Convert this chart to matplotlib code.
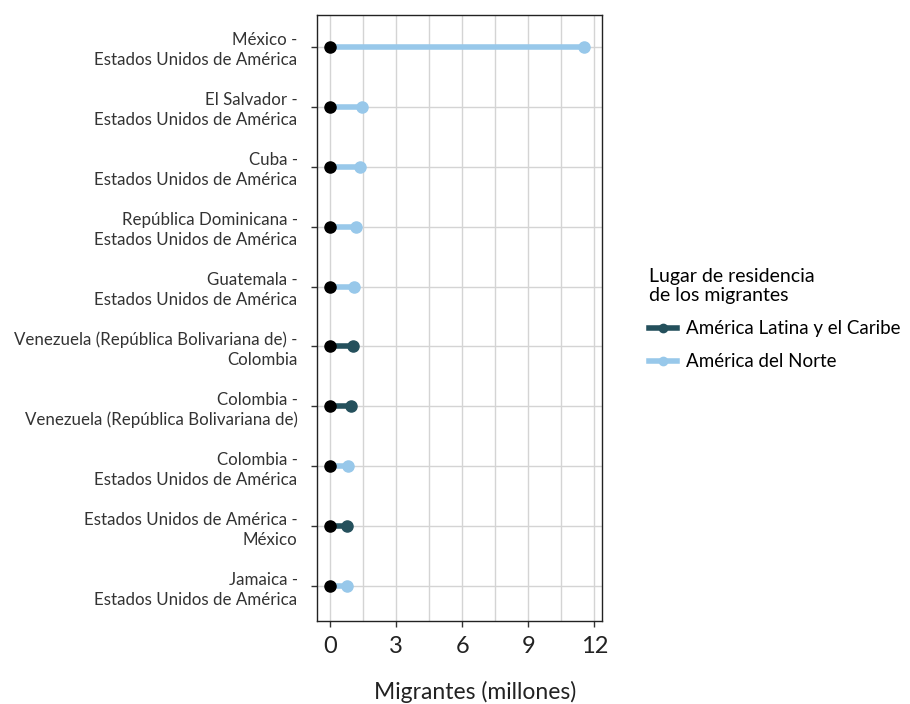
import matplotlib
matplotlib.use("Agg")
import matplotlib.pyplot as plt
from matplotlib.lines import Line2D
import numpy as np

plt.rcParams['font.family'] = ['Lato', 'DejaVu Sans']

corridors = [
    "México -\nEstados Unidos de América",
    "El Salvador -\nEstados Unidos de América",
    "Cuba -\nEstados Unidos de América",
    "República Dominicana -\nEstados Unidos de América",
    "Guatemala -\nEstados Unidos de América",
    "Venezuela (República Bolivariana de) -\nColombia",
    "Colombia -\nVenezuela (República Bolivariana de)",
    "Colombia -\nEstados Unidos de América",
    "Estados Unidos de América -\nMéxico",
    "Jamaica -\nEstados Unidos de América",
]
migrants = [11.55, 1.44, 1.35, 1.18, 1.06, 1.03, 0.95, 0.82, 0.77, 0.76]
region = ["AN", "AN", "AN", "AN", "AN", "ALC", "ALC", "AN", "ALC", "AN"]

region_labels = {"ALC": "América Latina y el Caribe", "AN": "América del Norte"}
colors = {"ALC": "#24505C", "AN": "#98C8EA"}

x_ticks = [0, 3, 6, 9, 12]

fig = plt.figure(figsize=(9.1, 7.04), dpi=100)
ax = fig.add_axes([317/910, 1-621/704, (602-317)/910, (621-15)/704])

ypos = np.arange(len(corridors))
for y, v, r in zip(ypos, migrants, region):
    ax.plot([0, v], [y, y], color=colors[r], lw=4, solid_capstyle='butt', zorder=3)
    ax.plot([v], [y], 'o', color=colors[r], ms=8, zorder=4)
    ax.plot([0], [y], 'o', color='black', ms=8, zorder=5)

ax.set_xlim(-0.6, 12.35)
ax.set_ylim(len(corridors) - 1 + 0.58, -0.53)
ax.set_xticks(x_ticks)
ax.set_xticklabels([str(t) for t in x_ticks], fontsize=17, color='#222222')
ax.set_xticks(np.arange(0, 12.01, 1.5), minor=True)
ax.set_yticks(ypos)
ax.set_yticklabels(corridors, fontsize=12.2, color='#333333', linespacing=1.3)
ax.grid(True, which='both', axis='x', color='#D4D4D4', lw=1)
ax.grid(True, which='major', axis='y', color='#D4D4D4', lw=1)
ax.tick_params(axis='x', which='minor', length=0)
ax.tick_params(axis='both', which='major', length=4, width=1, color='#333333')
ax.tick_params(axis='y', pad=10)
ax.tick_params(axis='x', pad=7)
ax.set_axisbelow(True)
for s in ax.spines.values():
    s.set_color('#222222')
    s.set_linewidth(1)

ax.set_xlabel("Migrantes (millones)", fontsize=16.5, color='#222222', va='center')
ax.xaxis.set_label_coords(0.555, -(692 - 621) / 606)

handles = [Line2D([0], [0], color=colors[k], lw=4, marker='o', ms=6) for k in ["ALC", "AN"]]
leg = fig.legend(handles, [region_labels[k] for k in ["ALC", "AN"]],
                 title="Lugar de residencia\nde los migrantes",
                 loc='center left', bbox_to_anchor=(0.695, 0.547), frameon=False,
                 fontsize=13.5, title_fontsize=14, handlelength=1.5, labelspacing=0.85,
                 alignment='left', handletextpad=0.45)

fig.savefig("out.png", dpi=100)
